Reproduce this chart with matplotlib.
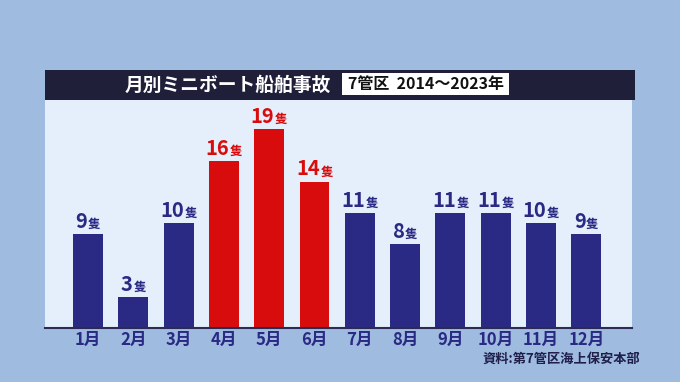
import matplotlib.pyplot as plt
from matplotlib.patches import Rectangle
from matplotlib.offsetbox import TextArea, HPacker, AnnotationBbox

plt.rcParams['font.family'] = ['Noto Sans CJK JP', 'DejaVu Sans']

months = ['1月', '2月', '3月', '4月', '5月', '6月',
          '7月', '8月', '9月', '10月', '11月', '12月']
counts = [9, 3, 10, 16, 19, 14, 11, 8, 11, 11, 10, 9]
highlight = ['4月', '5月', '6月']

navy = '#2a2a84'
red = '#d80c0c'
bg = '#9fbce0'

fig = plt.figure(figsize=(6.8, 3.82), dpi=100)
fig.patch.set_facecolor(bg)

# header bar
fig.patches.append(Rectangle((45 / 680, 1 - 100 / 382), 590 / 680, 30 / 382,
                             transform=fig.transFigure, facecolor='#1f1f3a',
                             edgecolor='none', zorder=0))
fig.patches.append(Rectangle((342 / 680, 1 - 95 / 382), 167 / 680, 22 / 382,
                             transform=fig.transFigure, facecolor='white',
                             edgecolor='none', zorder=1))
fig.text(228 / 680, 1 - 85 / 382, '月別ミニボート船舶事故', color='white',
         fontsize=13.5, fontweight='bold', ha='center', va='center')
fig.text(426 / 680, 1 - 84.5 / 382, '7管区  2014～2023年', color='#111111',
         fontsize=11.5, fontweight='bold', ha='center', va='center')

ax = fig.add_axes([45 / 680, 1 - 328 / 382, 587 / 680, 228 / 382])
ax.set_facecolor('#e4effb')

x = list(range(len(months)))
colors = [red if m in highlight else navy for m in months]
ax.bar(x, counts, width=0.66, color=colors, zorder=2)

for xi, v, c in zip(x, counts, colors):
    box = HPacker(children=[
        TextArea(str(v), textprops=dict(color=c, fontsize=14.5, fontweight='bold')),
        TextArea('隻', textprops=dict(color=c, fontsize=9, fontweight='bold')),
    ], align='baseline', pad=0, sep=0.5)
    ab = AnnotationBbox(box, (xi, v), xybox=(0, 1.5), xycoords='data',
                        boxcoords='offset points', box_alignment=(0.5, 0),
                        frameon=False)
    ax.add_artist(ab)

ax.set_xlim(-0.95, 12.01)
ax.set_ylim(0, 21.8)
ax.set_yticks([])
ax.set_xticks(x)
ax.set_xticklabels(months, fontsize=12, fontweight='bold', color=navy)
ax.tick_params(axis='x', length=0, pad=2)
for s in ['top', 'left', 'right']:
    ax.spines[s].set_visible(False)
ax.spines['bottom'].set_color('#2a2a55')
ax.spines['bottom'].set_linewidth(1.5)

fig.text(640 / 680, 1 - 359 / 382, '資料:第7管区海上保安本部', color='#1f1f4a',
         fontsize=9.5, fontweight='bold', ha='right', va='center')

fig.savefig('out.png', dpi=100, facecolor=bg)
